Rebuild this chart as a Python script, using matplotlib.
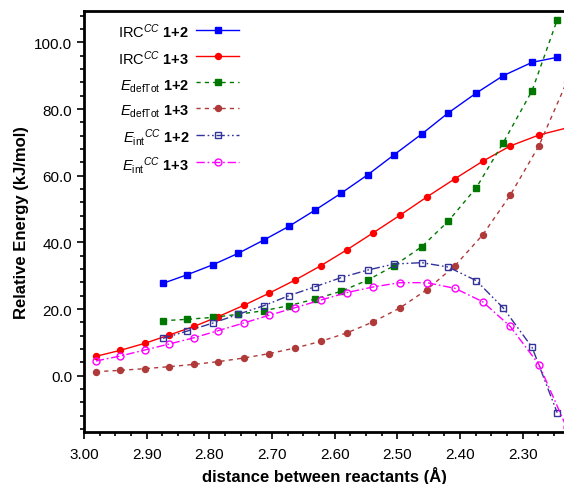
import numpy as np
import matplotlib
matplotlib.use('Agg')
import matplotlib.pyplot as plt
from matplotlib.ticker import MultipleLocator, FormatStrFormatter

plt.rcParams['font.family'] = ['Liberation Sans', 'DejaVu Sans']
plt.rcParams['mathtext.fontset'] = 'custom'
plt.rcParams['mathtext.rm'] = 'Liberation Sans'
plt.rcParams['mathtext.it'] = 'Liberation Sans:italic'
plt.rcParams['mathtext.bf'] = 'Liberation Sans:bold'

# distancias (Å)
d_12 = [2.874, 2.835, 2.794, 2.754, 2.713, 2.673, 2.631, 2.590, 2.547, 2.505,
        2.461, 2.419, 2.374, 2.331, 2.285, 2.245]
d_13 = [2.981, 2.942, 2.903, 2.864, 2.824, 2.786, 2.745, 2.705, 2.663, 2.622,
        2.581, 2.539, 2.496, 2.453, 2.408, 2.364, 2.320, 2.274, 2.230]

# energías (kJ/mol)
irc_12 = [27.7, 30.3, 33.3, 36.7, 40.7, 44.8, 49.7, 54.7, 60.3, 66.3,
          72.5, 78.8, 84.8, 90.0, 94.0, 95.5]
irc_13 = [5.8, 7.6, 9.7, 12.2, 14.8, 17.7, 21.1, 24.7, 28.7, 33.0,
          37.7, 42.8, 48.1, 53.6, 59.1, 64.3, 68.9, 72.2, 74.3]
def_12 = [16.5, 16.9, 17.5, 18.4, 19.5, 21.0, 23.0, 25.3, 28.7, 33.0,
          38.7, 46.3, 56.4, 69.9, 85.5, 106.7]
def_13 = [1.2, 1.6, 2.1, 2.7, 3.4, 4.2, 5.3, 6.6, 8.3, 10.3,
          12.8, 16.1, 20.3, 25.8, 33.0, 42.2, 54.1, 69.0, 88.0]
int_12 = [11.2, 13.4, 15.8, 18.4, 21.0, 24.0, 26.7, 29.4, 31.7, 33.5,
          33.9, 32.6, 28.5, 20.3, 8.5, -11.1]
int_13 = [4.4, 5.9, 7.7, 9.5, 11.4, 13.5, 15.8, 18.1, 20.4, 22.7,
          24.9, 26.6, 27.9, 27.9, 26.2, 22.2, 14.8, 3.3, -15.5]

fig = plt.figure(figsize=(5.64, 4.85), dpi=100)
ax = fig.add_axes([84 / 564, 52 / 485, 481 / 564, 421 / 485])

ax.plot(d_12, irc_12, color='#0000ff', lw=1.0, marker='s', ms=4.3,
        label=r'IRC$^{\mathit{CC}}$ $\mathbf{1{+}2}$')
ax.plot(d_13, irc_13, color='#ff0000', lw=1.0, marker='o', ms=4.3,
        label=r'IRC$^{\mathit{CC}}$ $\mathbf{1{+}3}$')
ax.plot(d_12, def_12, color='#007700', lw=1.0, ls=(0, (3, 3)), marker='s', ms=4.3,
        label=r'$\mathit{E}_{\mathrm{defTot}}$ $\mathbf{1{+}2}$')
ax.plot(d_13, def_13, color='#b03a3a', lw=1.0, ls=(0, (3, 3)), marker='o', ms=4.3,
        label=r'$\mathit{E}_{\mathrm{defTot}}$ $\mathbf{1{+}3}$')
ax.plot(d_12, int_12, color='#333399', lw=1.0, ls=(0, (6, 2, 1.2, 2, 1.2, 2)),
        marker='s', ms=5, mfc='none', mew=1.0,
        label=r'$\mathit{E}_{\mathrm{int}}{}^{\mathit{CC}}$ $\mathbf{1{+}2}$')
ax.plot(d_13, int_13, color='#ff00ff', lw=1.0, ls=(0, (6, 2, 1.2, 2)),
        marker='o', ms=5, mfc='none', mew=1.0,
        label=r'$\mathit{E}_{\mathrm{int}}{}^{\mathit{CC}}$ $\mathbf{1{+}3}$')

ax.set_xlim(3.00, 2.2325)
ax.set_ylim(-16.9, 109.4)
ax.xaxis.set_major_locator(MultipleLocator(0.1))
ax.xaxis.set_minor_locator(MultipleLocator(0.025))
ax.yaxis.set_major_locator(MultipleLocator(20))
ax.yaxis.set_minor_locator(MultipleLocator(4))
ax.xaxis.set_major_formatter(FormatStrFormatter('%.2f'))
ax.yaxis.set_major_formatter(FormatStrFormatter('%.1f'))
ax.tick_params(which='both', direction='out', top=False, right=False,
               labelsize=11, width=1.2)
ax.tick_params(which='major', length=5)
ax.tick_params(axis='x', which='major', pad=5.5)
ax.tick_params(which='minor', length=3)
for s in ax.spines.values():
    s.set_linewidth(2)

ax.set_xlabel('distance between reactants (Å)', fontsize=12, fontweight='bold')
ax.set_ylabel('Relative Energy (kJ/mol)', fontsize=12, fontweight='bold')

ax.legend(loc='upper left', frameon=False, markerfirst=False, fontsize=10.5,
          handlelength=2.95, handletextpad=0.5, handleheight=1.65,
          labelspacing=0.44, borderpad=0.2, bbox_to_anchor=(0.05, 1.0))

fig.savefig('out.png', dpi=100)
